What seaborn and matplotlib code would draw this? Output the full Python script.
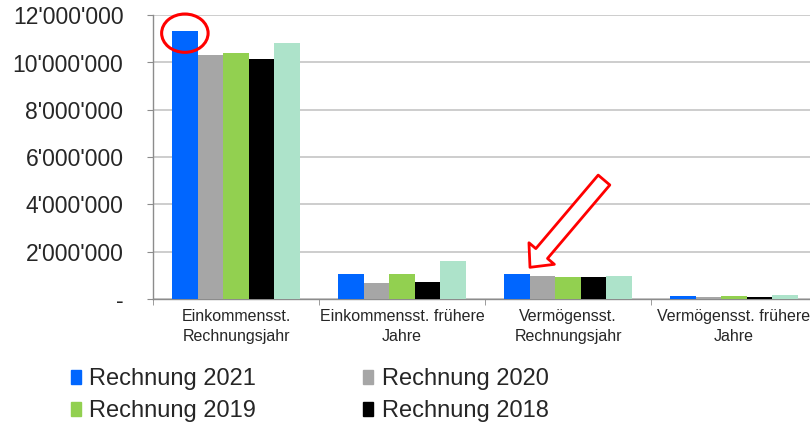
import pandas as pd
import matplotlib.pyplot as plt
import seaborn as sns
from matplotlib.patches import Patch, Ellipse
from matplotlib.ticker import FuncFormatter

# values
categories = ["Einkommensst.\nRechnungsjahr", "Einkommensst. frühere\nJahre",
              "Vermögensst.\nRechnungsjahr", "Vermögensst. frühere\nJahre"]
series = ["Rechnung 2021", "Rechnung 2020", "Rechnung 2019", "Rechnung 2018", "Budget"]
colors = ["#0066FF", "#A6A6A6", "#92D050", "#000000", "#ADE3CA"]

rechnung_2021 = [11330000, 1040000, 1070000, 140000]
rechnung_2020 = [10320000, 680000, 970000, 85000]
rechnung_2019 = [10390000, 1040000, 940000, 120000]
rechnung_2018 = [10140000, 730000, 930000, 85000]
budget = [10820000, 1610000, 970000, 180000]

values = [rechnung_2021, rechnung_2020, rechnung_2019, rechnung_2018, budget]
rows = []
for s, vals in zip(series, values):
    for c, v in zip(categories, vals):
        rows.append({"Kategorie": c, "Serie": s, "Betrag": v})
df = pd.DataFrame(rows)

sns.set_style("white")
plt.rcParams['font.family'] = ['Liberation Sans', 'DejaVu Sans']

fig = plt.figure(figsize=(8.1, 4.25), dpi=100)
ax = fig.add_axes([153 / 810, 126 / 425, 664 / 810, 283.8 / 425])

sns.barplot(data=df, x="Kategorie", y="Betrag", hue="Serie", palette=colors,
            hue_order=series, order=categories, width=0.77, saturation=1,
            linewidth=0, legend=False, ax=ax, zorder=3)

ax.set_ylim(0, 12000000)
ax.set_xlim(-0.5, 3.5)
ax.set_yticks(range(0, 12000001, 2000000))
ax.yaxis.set_major_formatter(FuncFormatter(
    lambda v, p: "-" if v == 0 else f"{int(v):,}".replace(",", "'")))
ax.tick_params(axis="y", labelsize=16.5, length=4.3, color="#8C8C8C", pad=17,
               direction="out", left=True)
ax.grid(axis="y", color="#C0C0C0", lw=1.1, zorder=0)

ax.set_xticks([0, 1, 2, 3])
ax.set_xticklabels(categories, fontsize=11.5, linespacing=1.45)
ax.tick_params(axis="x", length=0, pad=7)
ax.set_xticks([-0.5, 0.5, 1.5, 2.5, 3.5], minor=True)
ax.tick_params(axis="x", which="minor", length=4, color="#8C8C8C", bottom=True)
ax.set_xlabel("")
ax.set_ylabel("")

for side in ["top", "right"]:
    ax.spines[side].set_visible(False)
for side in ["left", "bottom"]:
    ax.spines[side].set_color("#8C8C8C")
    ax.spines[side].set_linewidth(1)

# red highlight circle around the top of the first bar
bar_w = 0.77 / len(series)
x0 = 0 - 2 * bar_w
ax.add_patch(Ellipse((x0, rechnung_2021[0] - 90000), 0.28, 1620000, fill=False,
                     ec="#FF0000", lw=2.2, zorder=5, clip_on=False))

# hollow red arrow pointing at Vermögensst. Rechnungsjahr
ax.annotate("", xy=(2 - 2 * bar_w + 0.079, rechnung_2021[2] + 270000),
            xytext=(2.217, 5030000),
            arrowprops=dict(arrowstyle="simple,head_length=0.65,head_width=1.2,tail_width=0.55",
                            fc="white", ec="#FF0000", lw=2, mutation_scale=20,
                            shrinkA=0, shrinkB=0),
            zorder=6)

handles = [Patch(color=c, label=s) for s, c in zip(series[:4], colors[:4])]
order = [0, 2, 1, 3]
fig.legend([handles[i] for i in order], [series[i] for i in order],
           loc="upper left", bbox_to_anchor=(71 / 810, 1 - 368.5 / 425), ncol=2,
           frameon=False, fontsize=17, handlelength=0.42, handleheight=0.5,
           handletextpad=0.35, columnspacing=4.55, labelspacing=0.42, borderpad=0,
           borderaxespad=0)

fig.savefig("out.png", dpi=100)
